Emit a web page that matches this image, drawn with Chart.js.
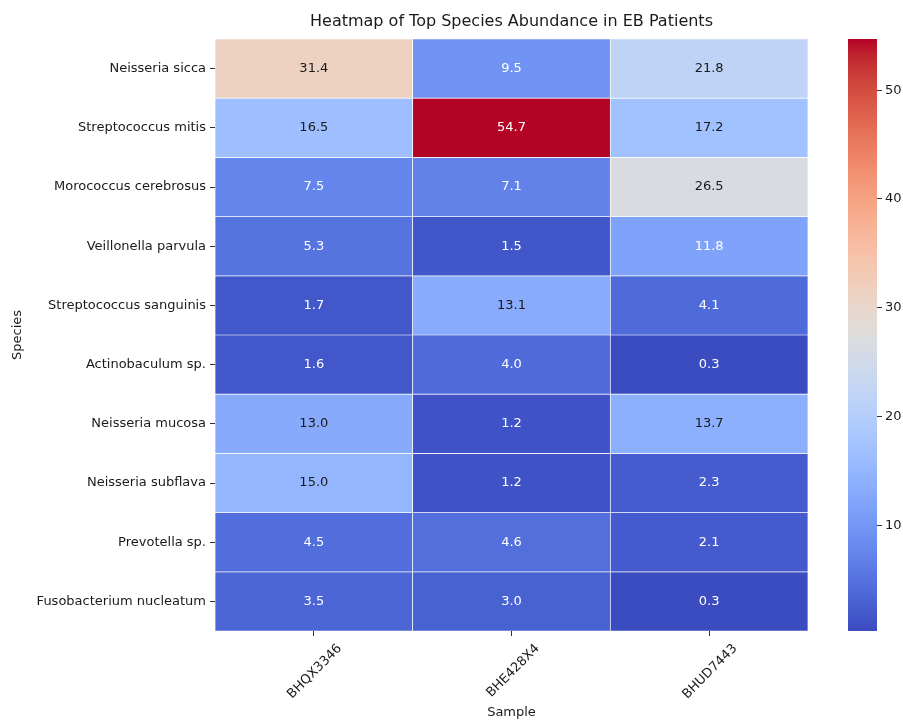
<!DOCTYPE html>
<html>
<head>
<meta charset="utf-8">
<script src="https://cdn.jsdelivr.net/npm/chart.js@4.4.0/dist/chart.umd.min.js"></script>
<style>
  html, body { margin: 0; padding: 0; background: #fff; }
  #wrap { position: relative; width: 903px; height: 720px; }
  #main { position: absolute; left: 0; top: 0; }
  #cbar { position: absolute; left: 800px; top: 0; }
</style>
</head>
<body>
<div id="wrap">
  <canvas id="main" width="903" height="720"></canvas>
  <canvas id="cbar" width="103" height="720"></canvas>
</div>
<script>
// ---- data ----
const samples = ['BHQX3346', 'BHE428X4', 'BHUD7443'];
const species = [
  'Neisseria sicca', 'Streptococcus mitis', 'Morococcus cerebrosus', 'Veillonella parvula',
  'Streptococcus sanguinis', 'Actinobaculum sp.', 'Neisseria mucosa', 'Neisseria subflava',
  'Prevotella sp.', 'Fusobacterium nucleatum'
];
const bhqx3346 = [31.4, 16.5, 7.5, 5.3, 1.7, 1.6, 13.0, 15.0, 4.5, 3.5];
const bhe428x4 = [9.5, 54.7, 7.1, 1.5, 13.1, 4.0, 1.2, 1.2, 4.6, 3.0];
const bhud7443 = [21.8, 17.2, 26.5, 11.8, 4.1, 0.3, 13.7, 2.3, 2.1, 0.3];
const colorbarTicks = [10, 20, 30, 40, 50];

const columns = [bhqx3346, bhe428x4, bhud7443];
const allVals = columns.flat();
const vmin = Math.min(...allVals);
const vmax = Math.max(...allVals);

// ---- coolwarm colormap (Moreland) ----
const cw = [
  [59,76,192],[68,90,204],[77,104,215],[87,117,225],[98,130,234],[108,142,241],[119,154,247],
  [130,165,251],[141,176,254],[152,185,255],[163,194,255],[174,201,253],[184,208,249],[194,213,244],
  [204,217,238],[213,219,230],[221,221,221],[229,216,209],[236,211,197],[241,204,184],[245,196,173],
  [247,187,160],[247,177,148],[247,166,135],[244,154,123],[241,141,111],[236,127,99],[229,112,88],
  [222,96,77],[213,80,66],[203,62,56],[192,40,47],[180,4,38]
];
function coolwarmRGB(t) {
  t = Math.max(0, Math.min(1, t));
  const p = t * (cw.length - 1);
  const i = Math.min(Math.floor(p), cw.length - 2);
  const f = p - i;
  return cw[i].map((a, k) => Math.round(a + (cw[i + 1][k] - a) * f));
}
function colorFor(v) {
  const c = coolwarmRGB((v - vmin) / (vmax - vmin));
  return `rgb(${c[0]},${c[1]},${c[2]})`;
}
function textColorFor(v) {
  const c = coolwarmRGB((v - vmin) / (vmax - vmin)).map(x => {
    x /= 255;
    return x <= 0.03928 ? x / 12.92 : Math.pow((x + 0.055) / 1.055, 2.4);
  });
  const L = 0.2126 * c[0] + 0.7152 * c[1] + 0.0722 * c[2];
  return L > 0.408 ? '#1a1a1a' : '#ffffff';
}

const FONT = "'DejaVu Sans', sans-serif";
const TXT = '#1a1a1a';
const FS = 13;

// ---- main heatmap ----
const datasets = species.map((sp, r) => ({
  label: sp,
  data: samples.map(() => [r, r + 1]),
  backgroundColor: samples.map((s, c) => colorFor(columns[c][r])),
  borderColor: '#ffffff',
  borderWidth: 0.7,
  borderSkipped: false,
  barPercentage: 1,
  categoryPercentage: 1,
  grouped: false
}));

const annotatePlugin = {
  id: 'annotate',
  afterDatasetsDraw(chart) {
    const ctx = chart.ctx;
    ctx.save();
    ctx.font = `${FS}px ${FONT}`;
    ctx.textAlign = 'center';
    ctx.textBaseline = 'middle';
    species.forEach((sp, r) => {
      const meta = chart.getDatasetMeta(r);
      meta.data.forEach((bar, c) => {
        const v = columns[c][r];
        ctx.fillStyle = textColorFor(v);
        ctx.fillText(v.toFixed(1), bar.x, (bar.y + bar.base) / 2);
      });
    });
    ctx.restore();
  }
};

new Chart(document.getElementById('main'), {
  type: 'bar',
  data: { labels: samples, datasets },
  plugins: [annotatePlugin],
  options: {
    responsive: false,
    devicePixelRatio: 1,
    animation: false,
    layout: { padding: { left: 0, right: 95, top: 0, bottom: 0 } },
    plugins: {
      legend: { display: false },
      tooltip: { enabled: false },
      title: {
        display: true,
        align: 'center',
        fullSize: false,
        text: 'Heatmap of Top Species Abundance in EB Patients',
        color: TXT,
        font: { family: FONT, size: 16, weight: 'normal', lineHeight: 1.2 },
        padding: { top: 12, bottom: 7.8 }
      }
    },
    scales: {
      x: {
        type: 'category',
        position: 'bottom',
        border: { display: false },
        grid: { display: true, drawOnChartArea: false, offset: false, tickLength: 5, color: '#333', tickWidth: 1 },
        ticks: { color: TXT, font: { family: FONT, size: FS }, minRotation: 45, maxRotation: 45, padding: 5, labelOffset: 26 },
        title: { display: true, text: 'Sample', color: TXT, font: { family: FONT, size: FS }, padding: { top: 0, bottom: 0 } },
        afterFit(s) { s.height = 89; }
      },
      y: {
        type: 'linear',
        min: 0,
        max: species.length,
        reverse: true,
        border: { display: false },
        grid: { display: true, drawOnChartArea: false, tickLength: 5, color: '#333', tickWidth: 1 },
        afterBuildTicks(s) { s.ticks = species.map((sp, i) => ({ value: i + 0.5 })); },
        ticks: {
          color: TXT, font: { family: FONT, size: FS }, padding: 4, autoSkip: false,
          callback: (value, index) => species[index]
        },
        title: { display: true, text: 'Species', color: TXT, font: { family: FONT, size: FS }, padding: { top: 10, bottom: 0 } },
        afterFit(s) { s.width = 215; }
      }
    }
  }
});

// ---- colorbar ----
new Chart(document.getElementById('cbar'), {
  type: 'bar',
  data: {
    labels: [''],
    datasets: [{
      data: [[vmin, vmax]],
      borderWidth: 0,
      barPercentage: 1,
      categoryPercentage: 1,
      backgroundColor(ctx) {
        const area = ctx.chart.chartArea;
        if (!area) return '#888';
        const g = ctx.chart.ctx.createLinearGradient(0, area.bottom, 0, area.top);
        cw.forEach((c, i) => g.addColorStop(i / (cw.length - 1), `rgb(${c[0]},${c[1]},${c[2]})`));
        return g;
      }
    }]
  },
  options: {
    responsive: false,
    devicePixelRatio: 1,
    animation: false,
    layout: { padding: { left: 48, right: 0, top: 39, bottom: 89 } },
    plugins: { legend: { display: false }, tooltip: { enabled: false }, title: { display: false } },
    scales: {
      x: { display: false },
      y: {
        type: 'linear',
        position: 'right',
        min: vmin,
        max: vmax,
        border: { display: false },
        grid: { display: true, drawOnChartArea: false, tickLength: 5, color: '#333', tickWidth: 1 },
        afterBuildTicks(s) { s.ticks = colorbarTicks.map(v => ({ value: v })); },
        ticks: { color: TXT, font: { family: FONT, size: FS }, padding: 3, callback: v => String(v) },
        afterFit(s) { s.width = 26; }
      }
    }
  }
});
</script>
</body>
</html>
